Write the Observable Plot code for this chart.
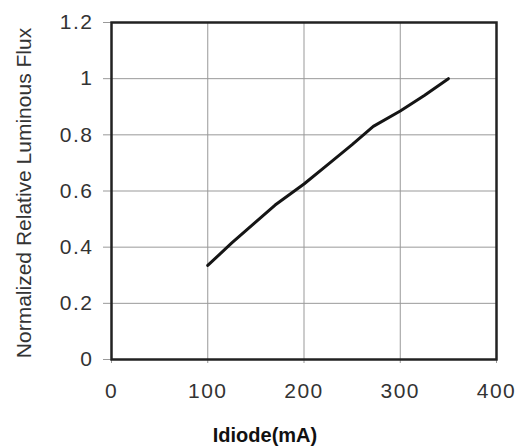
<!DOCTYPE html>
<html>
<head>
<meta charset="utf-8">
<script src="https://cdn.jsdelivr.net/npm/d3@7"></script>
<script src="https://cdn.jsdelivr.net/npm/@observablehq/plot@0.6"></script>
<style>
  html, body { margin: 0; padding: 0; background: #fff; }
  #chart svg g[aria-label="x-axis tick label"] text,
  #chart svg g[aria-label="y-axis tick label"] text { letter-spacing: 1.5px; }
</style>
</head>
<body>
<div id="chart"></div>
<script>
const current = [100, 125, 150, 170, 200, 225, 250, 272, 300, 325, 350];
const flux = [0.335, 0.415, 0.49, 0.55, 0.625, 0.695, 0.765, 0.83, 0.885, 0.94, 1.0];
const xTicks = [0, 100, 200, 300, 400];
const yTicks = [0, 0.2, 0.4, 0.6, 0.8, 1, 1.2];
const xLabel = "Idiode(mA)";
const yLabel = "Normalized Relative Luminous Flux";

const data = current.map((c, i) => ({ current: c, flux: flux[i] }));

const chart = Plot.plot({
  width: 517,
  height: 447,
  marginLeft: 111,
  marginRight: 21,
  marginTop: 22,
  marginBottom: 88,
  style: { fontFamily: "'Liberation Sans', Arial, sans-serif", background: "#fff", color: "#333" },
  x: { domain: [0, 400], ticks: xTicks },
  y: { domain: [0, 1.2], ticks: yTicks },
  marks: [
    Plot.gridX(xTicks, { stroke: "#999", strokeOpacity: 1, strokeWidth: 1 }),
    Plot.gridY(yTicks, { stroke: "#999", strokeOpacity: 1, strokeWidth: 1 }),
    Plot.axisX(xTicks, { tickSize: 4, tickPadding: 20, fontSize: 21, stroke: "#999", fill: "#333", label: null }),
    Plot.axisY(yTicks, { tickSize: 8, tickPadding: 10, fontSize: 21, stroke: "#999", fill: "#333", label: null, tickFormat: d => String(d) }),
    Plot.frame({ stroke: "#222", strokeWidth: 2.5 }),
    Plot.line(data, { x: "current", y: "flux", stroke: "#151515", strokeWidth: 3 }),
    Plot.text([yLabel], { frameAnchor: "left", textAnchor: "middle", lineAnchor: "middle", dx: -87, dy: 2, rotate: -90, fontSize: 21, fill: "#333" }),
    Plot.text([xLabel], { frameAnchor: "bottom", textAnchor: "middle", lineAnchor: "middle", dx: -39, dy: 76, fontSize: 20, fontWeight: "bold", fill: "#111" })
  ]
});
document.getElementById("chart").appendChild(chart);
</script>
</body>
</html>
